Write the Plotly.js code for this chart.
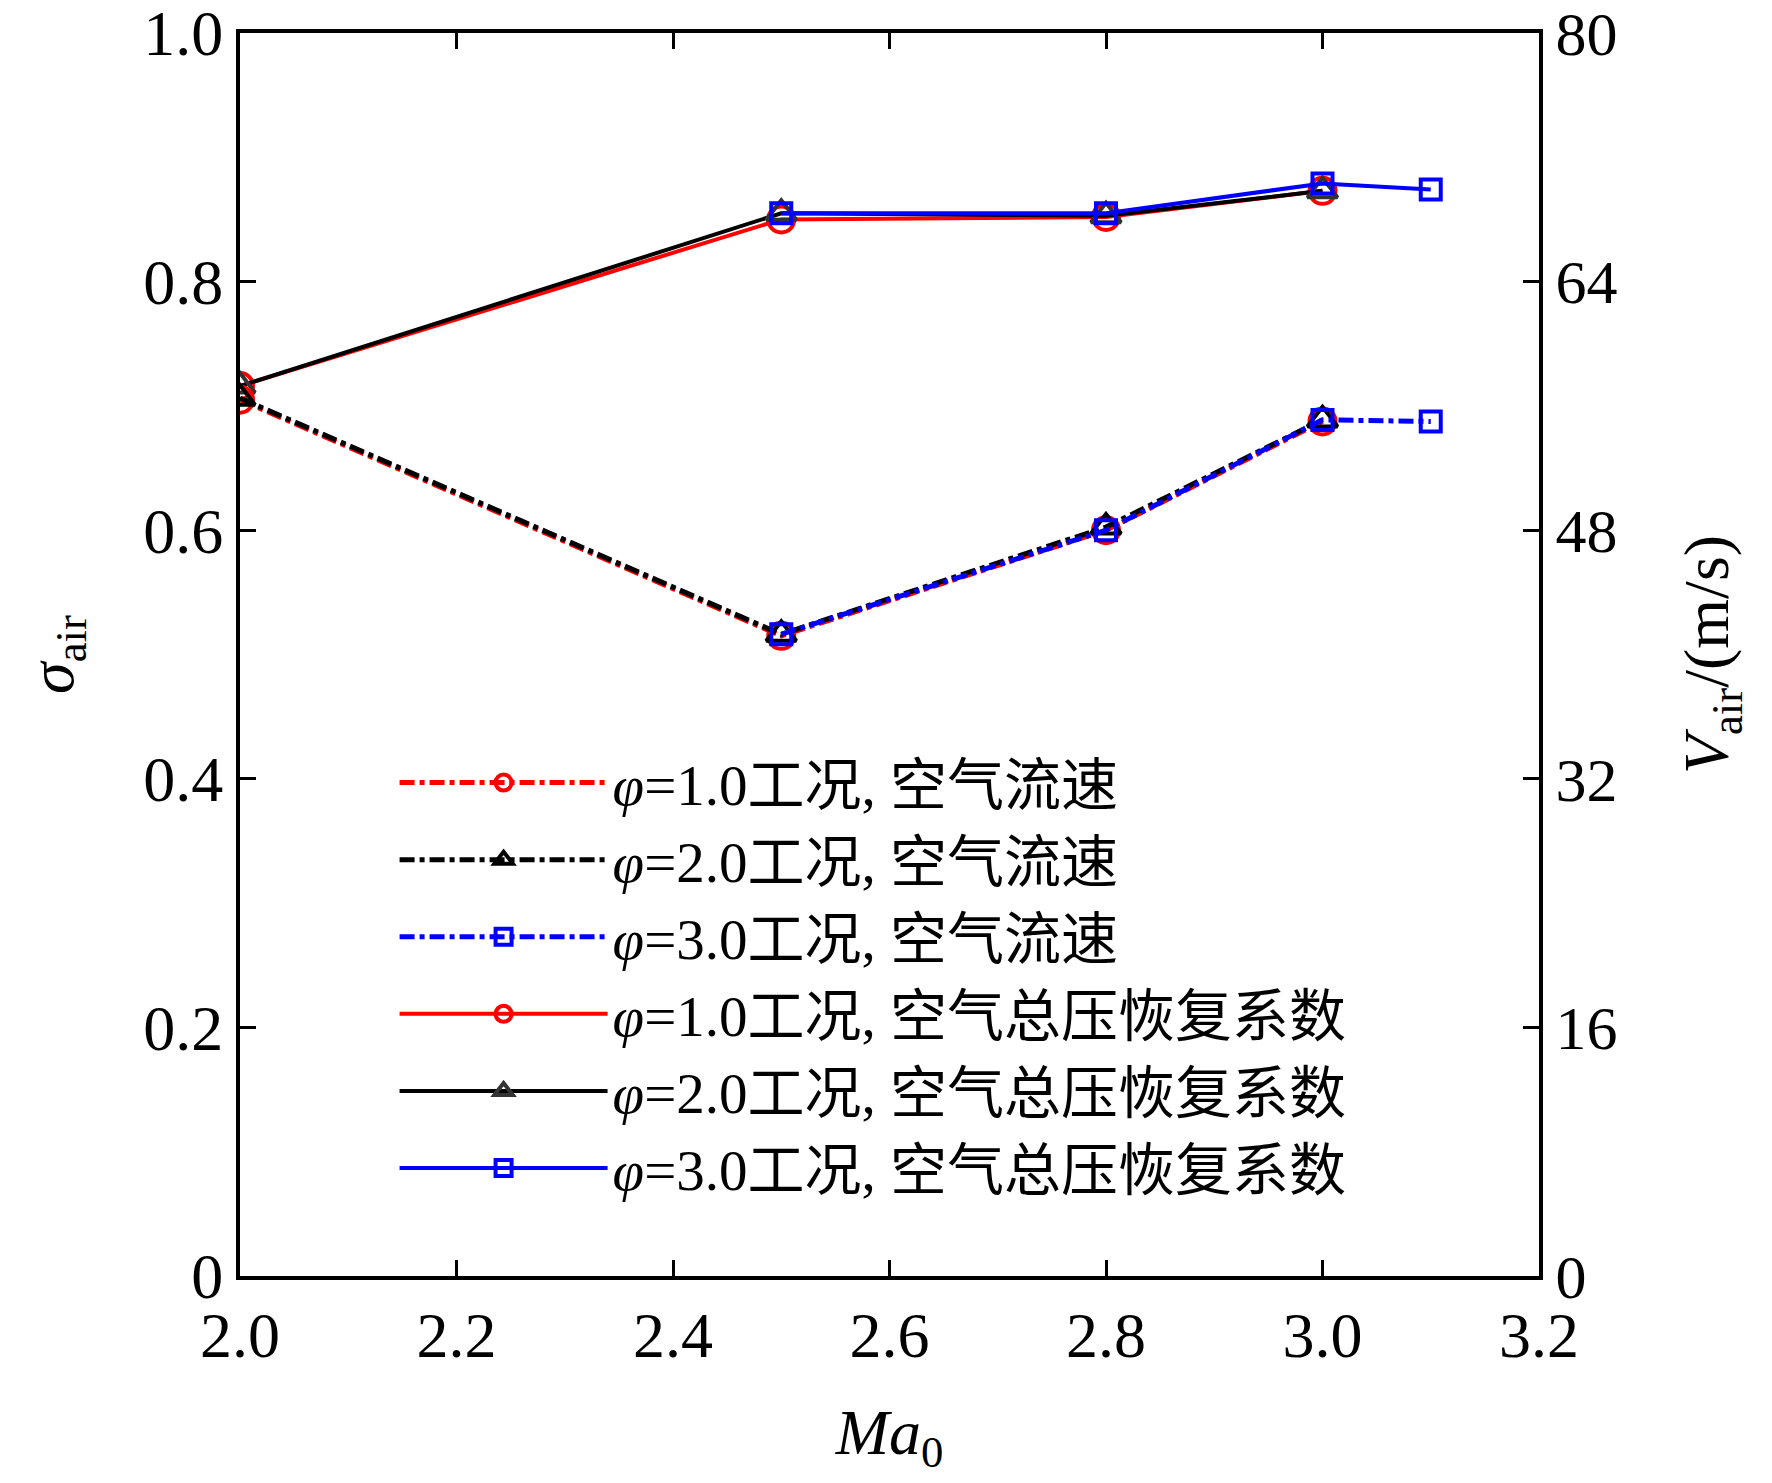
<!DOCTYPE html>
<html>
<head>
<meta charset="utf-8">
<script src="https://cdn.plot.ly/plotly-3.0.1.min.js"></script>
<style>
  body { margin: 0; background: #fff; }
  #plot { width: 1772px; height: 1483px; }
</style>
</head>
<body>
<div id="plot"></div>
<script>
// Mach numbers for each equivalence ratio case
var machPhi1 = [2.0, 2.5, 2.8, 3.0];
var machPhi2 = [2.0, 2.5, 2.8, 3.0];
var machPhi3 = [2.5, 2.8, 3.0, 3.1];

// air velocity V_air (m/s), right axis
var velPhi1 = [56.4, 41.2, 48.0, 55.0];
var velPhi2 = [56.5, 41.3, 48.2, 55.1];
var velPhi3 = [41.3, 48.0, 55.1, 55.0];

// total pressure recovery coefficient sigma_air, left axis
var sigmaPhi1 = [0.716, 0.850, 0.852, 0.873];
var sigmaPhi2 = [0.716, 0.855, 0.853, 0.873];
var sigmaPhi3 = [0.855, 0.855, 0.879, 0.874];

var names = [
  "<i>φ</i>=1.0工况, 空气流速",
  "<i>φ</i>=2.0工况, 空气流速",
  "<i>φ</i>=3.0工况, 空气流速",
  "<i>φ</i>=1.0工况, 空气总压恢复系数",
  "<i>φ</i>=2.0工况, 空气总压恢复系数",
  "<i>φ</i>=3.0工况, 空气总压恢复系数"
];

var serif = "Liberation Serif, Times New Roman, Noto Sans CJK SC, serif";

// velocity traces (dash-dot, right axis)
var v1 = {
  x: machPhi1, y: velPhi1, yaxis: "y2", name: names[0], mode: "lines+markers",
  line: {color: "#ff0000", width: 5, dash: "dashdot"},
  marker: {symbol: "circle-open", size: 26, color: "#ff0000", line: {width: 4}}
};
var v2 = {
  x: machPhi2, y: velPhi2, yaxis: "y2", name: names[1], mode: "lines+markers",
  line: {color: "#000000", width: 5, dash: "dashdot"},
  marker: {symbol: "triangle-up-open", size: 26, color: "#000000", line: {width: 4}}
};
var v3 = {
  x: machPhi3, y: velPhi3, yaxis: "y2", name: names[2], mode: "lines+markers",
  line: {color: "#0000ff", width: 5, dash: "dashdot"},
  marker: {symbol: "square-open", size: 20, color: "#0000ff", line: {width: 4}}
};

// recovery coefficient traces (solid, left axis)
var s1 = {
  x: machPhi1, y: sigmaPhi1, name: names[3], mode: "lines+markers",
  line: {color: "#ff0000", width: 4},
  marker: {symbol: "circle-open", size: 26, color: "#ff0000", line: {width: 4}}
};
var s2 = {
  x: machPhi2, y: sigmaPhi2, name: names[4], mode: "lines+markers",
  line: {color: "#000000", width: 4},
  marker: {symbol: "triangle-up-open", size: 26, color: "#333333", line: {width: 4}}
};
var s3 = {
  x: machPhi3, y: sigmaPhi3, name: names[5], mode: "lines+markers",
  line: {color: "#0000ff", width: 4},
  marker: {symbol: "square-open", size: 20, color: "#0000ff", line: {width: 4}}
};

var data = [v1, v2, v3, s1, s2, s3];

var layout = {
  width: 1772,
  height: 1483,
  margin: {l: 240, r: 233, t: 33, b: 207},
  paper_bgcolor: "#ffffff",
  plot_bgcolor: "#ffffff",
  font: {family: serif, size: 62, color: "#000"},
  showlegend: true,
  legend: {
    x: 0.119, y: 0.432, xanchor: "left", yanchor: "top",
    bgcolor: "rgba(0,0,0,0)",
    font: {family: serif, size: 57, color: "#000"},
    itemwidth: 208,
    tracegroupgap: 0
  },
  xaxis: {
    range: [2.0, 3.2],
    dtick: 0.2,
    tick0: 2.0,
    tickformat: ".1f",
    showgrid: false,
    zeroline: false,
    showline: true,
    linecolor: "#000",
    linewidth: 4,
    mirror: "ticks",
    ticks: "inside",
    ticklen: 16,
    tickwidth: 3,
    tickcolor: "#000",
    ticklabeloverflow: "allow",
    tickfont: {family: serif, size: 64},
    title: {text: "<i>Ma</i><sub>0</sub>", font: {family: serif, size: 64}, standoff: 40}
  },
  yaxis: {
    range: [0, 1.0],
    tickvals: [0, 0.2, 0.4, 0.6, 0.8, 1.0],
    ticktext: ["0", "0.2", "0.4", "0.6", "0.8", "1.0"],
    showgrid: false,
    zeroline: false,
    showline: true,
    linecolor: "#000",
    linewidth: 4,
    ticks: "inside",
    ticklen: 16,
    tickwidth: 3,
    tickcolor: "#000",
    ticklabeloverflow: "allow",
    tickfont: {family: serif, size: 64},
    title: {text: "<i>σ</i><sub>air</sub>", font: {family: serif, size: 64}, standoff: 50}
  },
  yaxis2: {
    range: [0, 80],
    dtick: 16,
    overlaying: "y",
    side: "right",
    showgrid: false,
    zeroline: false,
    showline: true,
    linecolor: "#000",
    linewidth: 4,
    ticks: "inside",
    ticklen: 16,
    tickwidth: 3,
    tickcolor: "#000",
    ticklabeloverflow: "allow",
    tickfont: {family: serif, size: 62},
    title: {text: "<i>V</i><sub>air</sub>/(m/s)", font: {family: serif, size: 64}, standoff: 68}
  }
};

Plotly.newPlot("plot", data, layout, {displayModeBar: false});
</script>
</body>
</html>
